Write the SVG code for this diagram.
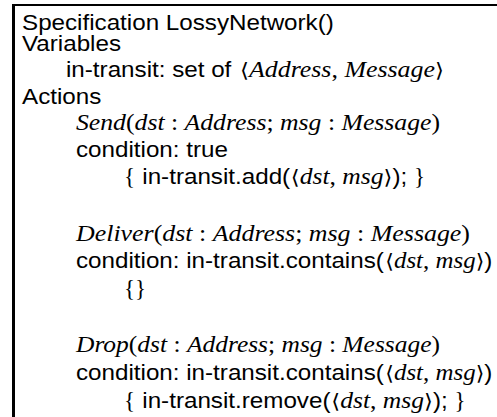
<svg xmlns="http://www.w3.org/2000/svg" width="497" height="417" viewBox="0 0 497 417">
<style>
.s{font-family:"Liberation Sans",Arial,sans-serif;font-size:22px;fill:#000}
.m{font-family:"Liberation Serif","Times New Roman",serif;font-size:22.5px;font-style:italic;fill:#000}
.u{font-style:normal}
.br{font-family:"DejaVu Sans",sans-serif;font-style:normal;font-size:20px}
.cb{font-family:"Liberation Serif","Times New Roman",serif;font-size:23px;fill:#000}
.rule{stroke:#000;fill:none}
</style>
<rect width="497" height="417" fill="#fff"/>
<g id="frame">
<line class="rule" x1="12" y1="5" x2="497" y2="5" stroke-width="2"/>
<line class="rule" x1="13.5" y1="4" x2="13.5" y2="417" stroke-width="3"/>
</g>
<g id="header">
<text class="s" transform="translate(22,30) scale(1.1,1)">Specification LossyNetwork()</text>
</g>
<g id="variables">
<text class="s" transform="translate(22,51) scale(1.1,1)">Variables</text>
<text class="s" transform="translate(66,77) scale(1.1,1)">in-transit: set of </text>
<text class="m" x="240" y="77" textLength="204" lengthAdjust="spacingAndGlyphs"><tspan class="br">⟨</tspan>Address<tspan class="u">, </tspan>Message<tspan class="br">⟩</tspan></text>
</g>
<g id="actions">
<text class="s" transform="translate(22,104) scale(1.1,1)">Actions</text>
</g>
<g id="send">
<text class="m" x="76" y="130" textLength="364" lengthAdjust="spacingAndGlyphs">Send<tspan class="u">(</tspan>dst<tspan class="u"> : </tspan>Address<tspan class="u">; </tspan>msg<tspan class="u"> : </tspan>Message<tspan class="u">)</tspan></text>
<text class="s" transform="translate(76,157) scale(1.1,1)">condition: true</text>
<text class="cb" x="124" y="184">{</text>
<text class="s" transform="translate(142.3,184) scale(1.1,1)">in-transit.add(</text>
<text class="m" x="290.8" y="184" textLength="101.6" lengthAdjust="spacingAndGlyphs"><tspan class="br">⟨</tspan>dst<tspan class="u">, </tspan>msg<tspan class="br">⟩</tspan></text>
<text class="s" transform="translate(392.4,184) scale(1.1,1)">);</text>
<text class="cb" x="414" y="184">}</text>
</g>
<g id="deliver">
<text class="m" x="76" y="241" textLength="394" lengthAdjust="spacingAndGlyphs">Deliver<tspan class="u">(</tspan>dst<tspan class="u"> : </tspan>Address<tspan class="u">; </tspan>msg<tspan class="u"> : </tspan>Message<tspan class="u">)</tspan></text>
<text class="s" transform="translate(76,268) scale(1.1,1)">condition: in-transit.contains(</text>
<text class="m" x="385.3" y="268" textLength="99" lengthAdjust="spacingAndGlyphs"><tspan class="br">⟨</tspan>dst<tspan class="u">, </tspan>msg<tspan class="br">⟩</tspan></text>
<text class="s" transform="translate(484.3,268) scale(1.1,1)">)</text>
<text class="cb" x="124" y="296">{}</text>
</g>
<g id="drop">
<text class="m" x="76" y="352" textLength="364" lengthAdjust="spacingAndGlyphs">Drop<tspan class="u">(</tspan>dst<tspan class="u"> : </tspan>Address<tspan class="u">; </tspan>msg<tspan class="u"> : </tspan>Message<tspan class="u">)</tspan></text>
<text class="s" transform="translate(76,380) scale(1.1,1)">condition: in-transit.contains(</text>
<text class="m" x="385.3" y="380" textLength="99" lengthAdjust="spacingAndGlyphs"><tspan class="br">⟨</tspan>dst<tspan class="u">, </tspan>msg<tspan class="br">⟩</tspan></text>
<text class="s" transform="translate(484.3,380) scale(1.1,1)">)</text>
<text class="cb" x="124" y="408">{</text>
<text class="s" transform="translate(142.3,408) scale(1.1,1)">in-transit.remove(</text>
<text class="m" x="331.3" y="408" textLength="101.6" lengthAdjust="spacingAndGlyphs"><tspan class="br">⟨</tspan>dst<tspan class="u">, </tspan>msg<tspan class="br">⟩</tspan></text>
<text class="s" transform="translate(432.9,408) scale(1.1,1)">);</text>
<text class="cb" x="454.5" y="408">}</text>
</g>
</svg>
